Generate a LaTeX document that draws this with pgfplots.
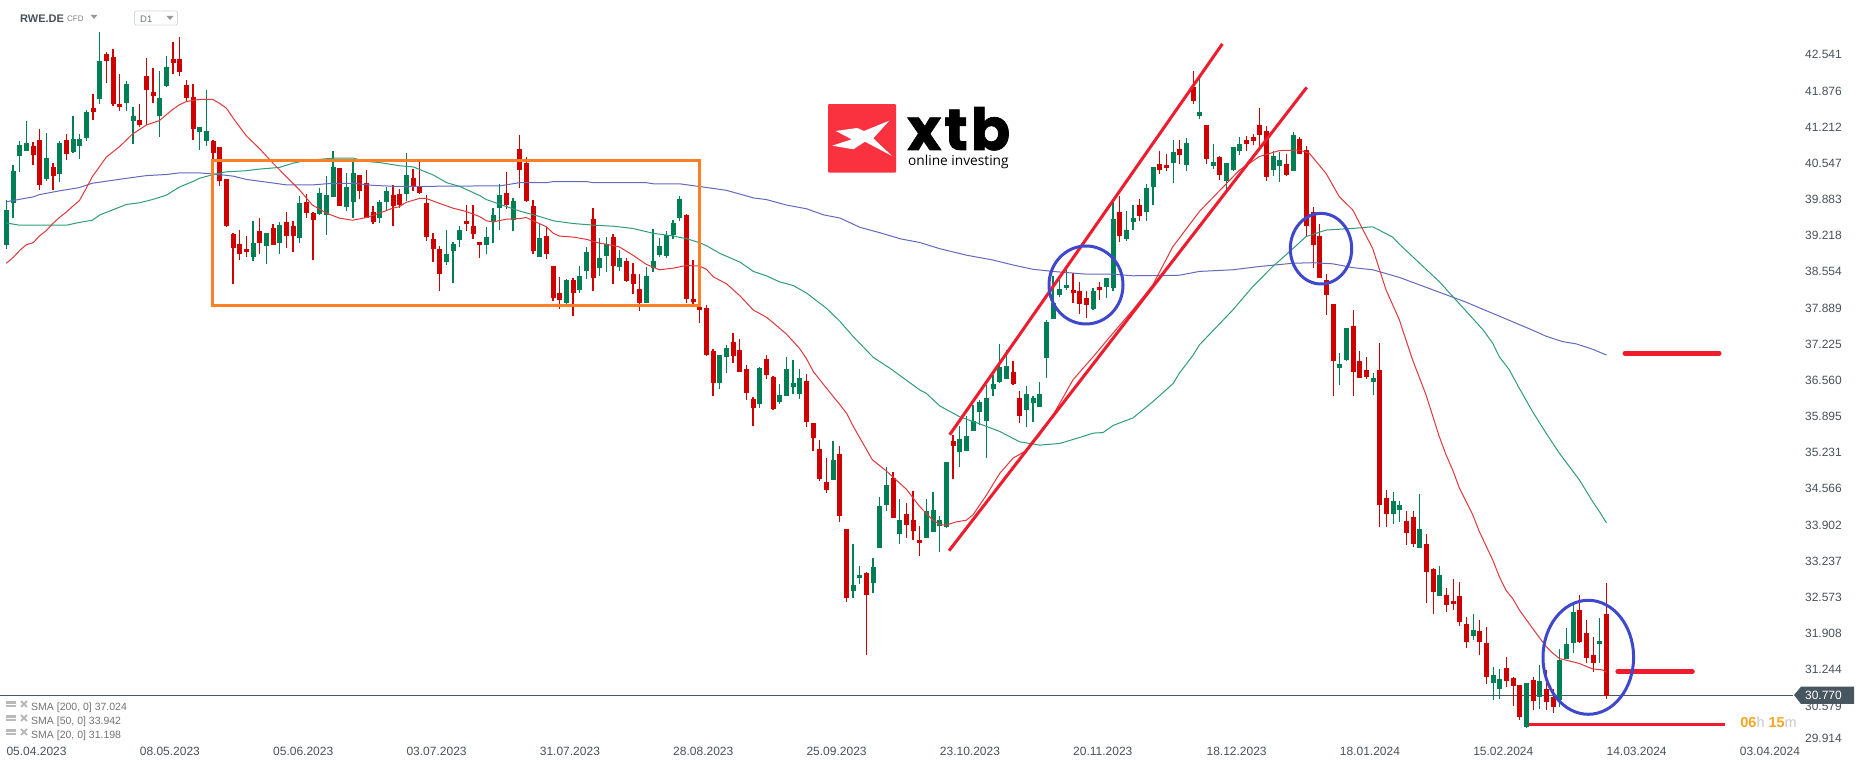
\documentclass[border=0pt]{standalone}
\usepackage{fontspec}
\setmainfont{Liberation Sans}
\newfontfamily\logofont{Poppins}[BoldFont={Poppins Bold},BoldFeatures={FakeBold=1.2}]
\newfontfamily\logosub{Open Sans}
\usepackage{pgfplots}
\usepackage{pgfplotstable}
\pgfplotsset{compat=1.18}
\definecolor{cRed}{HTML}{CF0000}
\definecolor{cGrn}{HTML}{007F55}
\definecolor{maRed}{HTML}{E2383C}
\definecolor{maGrn}{HTML}{2F9C7C}
\definecolor{maBlu}{HTML}{6269BE}
\definecolor{anRed}{HTML}{EE1C2C}
\definecolor{anBlu}{HTML}{3F48CC}
\definecolor{anOra}{HTML}{FF7F27}
\definecolor{priceC}{HTML}{47565F}
\definecolor{txtC}{HTML}{48525A}

% candles: index, low, body bottom, body top, high
\pgfplotstableread{
i l b t h
0 38.98 39.05 39.69 39.88
1 39.55 39.82 40.41 40.52
2 40.39 40.68 40.88 40.96
3 40.78 40.78 40.91 41.32
6 40.23 40.26 40.64 41.10
8 40.20 40.35 40.92 40.96
10 40.74 40.75 40.99 41.42
11 40.63 40.86 40.99 41.08
12 40.96 41.01 41.49 41.53
14 41.64 41.73 42.43 42.96
18 41.51 41.65 42.00 42.06
19 40.90 41.32 41.42 41.58
23 41.03 41.42 41.75 42.24
24 41.95 41.97 42.32 42.52
29 40.79 41.12 41.21 41.21
30 40.86 40.96 41.14 41.89
37 38.75 38.83 39.08 39.49
39 38.70 39.03 39.27 39.27
41 38.88 39.08 39.41 39.47
44 39.08 39.17 39.82 39.95
47 39.60 39.62 40.00 40.09
48 39.23 39.60 39.96 40.31
49 39.93 39.93 40.48 40.77
51 39.67 39.74 40.11 40.37
52 39.54 39.84 40.37 40.59
56 39.45 39.54 39.84 39.87
57 39.69 39.84 40.04 40.11
60 39.85 39.98 40.33 40.74
66 38.68 38.73 38.88 39.32
67 38.35 38.94 39.06 39.10
68 39.01 39.14 39.32 39.39
72 38.88 39.05 39.19 39.38
73 39.08 39.47 39.60 39.73
74 39.32 39.73 39.96 40.17
76 39.30 39.50 39.85 39.91
80 38.83 38.83 39.17 39.43
84 37.96 37.98 38.40 38.42
86 38.16 38.22 38.48 38.66
87 38.42 38.57 38.92 39.01
89 38.48 38.62 38.81 39.17
90 38.55 38.84 39.06 39.19
92 38.57 38.64 38.81 38.95
96 37.98 37.98 38.48 38.64
97 38.55 38.62 38.75 39.34
98 38.83 38.86 39.03 39.17
99 38.81 38.84 39.23 39.30
100 39.16 39.23 39.45 39.50
101 39.49 39.54 39.89 39.95
107 36.40 36.51 37.03 37.03
108 36.69 36.99 37.15 37.21
113 36.05 36.13 36.79 36.81
116 36.13 36.16 36.29 36.49
117 36.27 36.27 36.77 36.99
118 36.31 36.44 36.51 36.93
119 36.22 36.31 36.60 36.77
124 34.73 34.73 35.10 35.45
127 32.56 32.69 32.80 33.55
128 32.82 32.93 32.98 33.15
130 32.65 32.84 33.13 33.30
131 33.48 33.48 34.25 34.42
132 34.16 34.27 34.64 34.97
134 33.55 33.74 33.99 34.38
138 33.66 33.66 34.16 34.38
139 33.77 33.77 34.18 34.51
140 33.41 33.88 33.99 34.07
141 33.85 33.86 35.06 35.06
143 34.97 35.24 35.48 35.72
144 35.26 35.26 35.54 35.90
145 35.63 35.63 35.81 36.11
146 35.74 35.98 36.16 36.20
147 35.13 35.81 36.24 36.47
148 36.27 36.40 36.49 36.66
149 36.51 36.53 36.80 37.23
150 36.58 36.58 36.82 37.12
153 35.70 36.01 36.31 36.46
154 35.79 36.14 36.24 36.27
155 36.07 36.07 36.31 36.53
156 36.60 36.97 37.63 37.67
157 37.69 37.69 37.98 38.48
158 38.09 38.13 38.24 38.40
159 38.22 38.26 38.31 38.59
163 37.85 37.87 38.20 38.26
165 38.07 38.27 38.44 38.44
166 38.20 38.26 39.52 39.84
168 39.12 39.16 39.32 39.67
169 39.32 39.47 39.54 39.78
171 39.49 39.65 40.09 40.17
172 39.78 40.11 40.48 40.48
175 40.18 40.55 40.75 40.97
177 40.41 40.52 40.92 41.01
179 41.36 41.42 41.49 42.10
181 40.44 40.50 40.57 40.90
183 40.06 40.22 40.55 40.55
184 40.41 40.42 40.85 40.85
185 40.70 40.77 40.90 41.03
190 40.31 40.42 40.68 40.77
191 40.20 40.50 40.61 40.75
193 40.41 40.41 41.07 41.12
200 36.47 36.79 36.86 37.06
201 36.91 36.93 37.52 37.52
205 36.29 36.53 36.60 36.69
208 33.92 34.10 34.34 34.51
209 33.96 34.18 34.27 34.34
212 33.48 33.48 33.83 34.47
215 32.60 32.60 32.98 33.15
220 31.79 31.86 31.97 32.27
223 30.69 31.00 31.15 31.29
224 30.71 30.89 31.07 31.26
228 30.17 30.19 31.00 31.00
230 30.52 30.74 31.04 31.33
233 30.56 30.69 31.42 31.63
234 31.44 31.44 31.72 32.01
235 31.55 31.74 32.30 32.49
239 31.37 31.72 31.77 32.19
}\greenC

\pgfplotstableread{
i l b t h
4 40.52 40.70 40.86 40.93
5 40.06 40.15 40.97 41.18
7 40.06 40.31 40.48 40.56
9 40.61 40.72 40.97 41.08
13 41.34 41.49 41.56 41.82
15 42.02 42.43 42.55 42.59
16 41.60 41.64 42.50 42.65
17 41.51 41.58 41.64 42.19
20 41.21 41.25 41.34 41.64
21 41.25 41.89 42.15 42.48
22 41.65 41.78 41.86 42.30
25 42.19 42.39 42.46 42.77
26 42.15 42.22 42.46 42.87
27 41.67 41.75 41.98 42.08
28 40.97 41.18 41.76 42.00
31 40.61 40.74 40.96 40.97
32 40.13 40.22 40.85 40.85
33 39.38 39.39 40.26 40.26
34 38.33 38.99 39.25 39.27
35 38.77 38.88 39.06 39.32
36 38.83 38.92 38.97 39.21
38 38.88 39.08 39.30 39.54
40 39.05 39.05 39.36 39.43
42 38.99 39.21 39.47 39.65
43 38.92 39.21 39.39 39.49
45 39.54 39.63 39.84 39.98
46 38.77 39.50 39.63 39.65
50 39.76 39.76 40.46 40.46
53 39.89 40.04 40.33 40.33
54 39.54 39.54 40.18 40.42
55 39.43 39.47 39.65 39.76
58 39.39 39.76 39.96 40.15
59 39.73 39.78 39.98 40.07
61 40.04 40.13 40.28 40.44
62 39.98 40.00 40.13 40.59
63 39.12 39.19 39.82 39.96
64 38.73 38.97 39.16 39.27
65 38.20 38.51 38.97 39.03
69 39.30 39.43 39.49 39.78
70 39.16 39.25 39.39 39.78
71 38.81 39.05 39.10 39.10
75 39.71 39.78 40.00 40.39
77 40.09 40.42 40.81 41.07
78 39.84 39.85 40.55 40.66
79 38.88 38.94 39.76 39.87
81 38.79 38.88 39.21 39.38
82 38.02 38.07 38.66 38.66
83 37.87 38.04 38.16 38.46
85 37.74 38.16 38.40 38.44
88 38.20 38.44 39.52 39.73
91 38.33 38.66 39.19 39.25
93 38.37 38.38 38.75 38.81
94 38.15 38.33 38.51 38.72
95 37.83 37.98 38.24 38.51
102 37.98 38.05 39.60 39.62
103 37.96 38.00 38.05 38.77
104 37.61 37.85 37.91 37.94
105 37.01 37.03 37.89 37.94
106 36.27 36.51 37.10 37.14
109 36.88 37.01 37.26 37.43
110 36.71 36.71 37.12 37.32
111 36.20 36.33 36.77 36.84
112 35.72 36.05 36.22 36.25
114 36.58 36.66 36.95 37.03
115 36.02 36.03 36.62 36.64
120 35.70 35.79 36.55 36.68
121 35.26 35.50 35.78 35.78
122 34.71 34.75 35.30 35.46
123 34.49 34.55 34.69 35.13
125 33.96 34.07 35.21 35.35
126 32.49 32.56 33.83 33.83
129 31.51 32.62 33.02 33.04
133 34.03 34.03 34.77 34.88
135 33.66 33.90 34.10 34.31
136 33.63 33.79 33.99 34.53
137 33.33 33.57 33.63 33.88
142 34.75 35.35 35.45 35.55
151 36.47 36.49 36.71 36.91
152 35.77 35.90 36.24 36.36
160 37.98 38.16 38.22 38.53
161 37.78 37.96 38.20 38.37
162 37.70 37.94 38.07 38.20
164 38.04 38.22 38.27 38.37
167 39.10 39.21 39.65 39.95
170 39.49 39.58 39.78 39.89
173 40.35 40.42 40.53 40.77
174 40.41 40.46 40.52 40.72
176 40.53 40.70 40.81 40.97
178 41.64 41.69 41.95 42.24
180 40.53 40.63 41.25 41.25
182 40.24 40.33 40.66 40.68
186 40.77 40.90 40.97 41.05
187 40.88 40.96 41.03 41.08
188 40.86 41.07 41.25 41.56
189 40.22 40.29 41.14 41.23
192 40.31 40.33 40.53 40.72
194 40.72 40.72 40.99 41.03
195 39.21 39.39 40.79 40.86
196 38.62 39.05 39.65 39.74
197 38.44 38.44 39.21 39.43
198 37.76 38.13 38.40 38.51
199 36.27 36.91 37.96 37.96
202 36.27 36.71 37.56 37.85
203 36.60 36.60 36.91 37.10
204 36.58 36.62 36.75 36.99
206 33.87 34.27 36.75 37.25
207 33.87 34.10 34.40 34.55
210 33.54 33.76 33.98 34.16
211 33.50 33.55 34.05 34.16
213 32.47 33.04 33.55 33.74
214 32.27 32.67 33.09 33.11
216 32.30 32.43 32.62 32.75
217 32.34 32.45 32.51 32.91
218 32.05 32.12 32.60 32.86
219 31.64 31.75 32.08 32.21
221 31.52 31.75 31.96 32.16
222 30.98 31.11 31.74 32.03
225 30.93 31.04 31.28 31.48
226 30.58 30.95 31.09 31.11
227 30.32 30.38 30.96 30.96
229 30.50 30.67 31.06 31.11
231 30.50 30.65 30.89 31.24
232 30.45 30.56 30.74 30.89
236 31.73 31.75 32.34 32.62
237 31.37 31.46 31.92 32.16
238 31.20 31.37 31.52 31.85
240 30.71 30.77 32.27 32.84
}\redC

\begin{document}
\begin{tikzpicture}[x=1pt,y=1pt]
\fill[white] (0,0) rectangle (1866,767);
\begin{axis}[
  at={(0pt,0pt)},anchor=south west,
  scale only axis,width=1866pt,height=767pt,
  xmin=-0.95,xmax=278.94,ymin=29.457,ymax=43.546,
  axis line style={draw=none},
  major tick length=0pt,
  tick style={draw=none},
  xtick={0,20,40,60,80,100,120,140,160,180,200,220,240,260},
  xticklabels={05.04.2023,08.05.2023,05.06.2023,03.07.2023,31.07.2023,28.08.2023,25.09.2023,23.10.2023,20.11.2023,18.12.2023,18.01.2024,15.02.2024,14.03.2024,03.04.2024},
  x tick label style={anchor=base west,yshift=11.5pt,inner sep=0pt,font=\fontsize{12}{14}\selectfont,text=txtC},
  ytick={42.541,41.876,41.212,40.547,39.883,39.218,38.554,37.889,37.225,36.560,35.895,35.231,34.566,33.902,33.237,32.573,31.908,31.244,30.579,29.99},
  yticklabels={42.541,41.876,41.212,40.547,39.883,39.218,38.554,37.889,37.225,36.560,35.895,35.231,34.566,33.902,33.237,32.573,31.908,31.244,30.579,29.914},
  yticklabel pos=right,
  y tick label style={anchor=east,xshift=-24pt,inner sep=0pt,font=\fontsize{12}{14}\selectfont,text=txtC},
]
% price line
\addplot[priceC,line width=1.1pt,forget plot] coordinates {(-0.95,30.77) (268,30.77)};
% candle wicks
\addplot[draw=none,mark=none,forget plot,error bars/.cd,y dir=plus,y explicit,error mark=none,error bar style={draw=cGrn,line width=1.1pt}]
  table[x=i,y=l,y error plus expr=\thisrow{h}-\thisrow{l}]{\greenC};
\addplot[draw=none,mark=none,forget plot,error bars/.cd,y dir=plus,y explicit,error mark=none,error bar style={draw=cRed,line width=1.1pt}]
  table[x=i,y=l,y error plus expr=\thisrow{h}-\thisrow{l}]{\redC};
% candle bodies
\addplot[draw=none,mark=none,forget plot,error bars/.cd,y dir=plus,y explicit,error mark=none,error bar style={draw=cGrn,line width=5pt}]
  table[x=i,y=b,y error plus expr=\thisrow{t}-\thisrow{b}]{\greenC};
\addplot[draw=none,mark=none,forget plot,error bars/.cd,y dir=plus,y explicit,error mark=none,error bar style={draw=cRed,line width=5pt}]
  table[x=i,y=b,y error plus expr=\thisrow{t}-\thisrow{b}]{\redC};
% SMA 200
\addplot[maBlu,line width=1pt] coordinates {
(0,39.84)(4.05,39.93)(4.95,39.97)(7.95,40.04)(10.95,40.10)(12.9,40.18)(14.05,40.20)(18,40.27)(21,40.32)(24,40.34)(25.95,40.37)(28.95,40.37)(31.05,40.35)(34.05,40.31)(36,40.25)(39.05,40.20)(42,40.15)(46.05,40.15)(48,40.17)(52.05,40.18)(55.05,40.14)(59.05,40.12)(71.05,40.13)
(74,40.13)(76.95,40.19)(81,40.19)(82.05,40.21)(87,40.21)(88.05,40.19)(96,40.19)(97.05,40.17)(100.95,40.17)(103.95,40.12)(108,40.05)(110.05,39.98)(112.05,39.91)(114,39.88)(117,39.78)(120.05,39.71)(122.55,39.60)(125.05,39.54)(128.05,39.37)(131.05,39.27)(134.05,39.16)(137.05,39.09)
(139.95,38.98)(143.95,38.86)(147.95,38.77)(150.95,38.68)(153.95,38.60)(156.95,38.56)(161.95,38.51)(165.95,38.51)(168.95,38.48)(175.95,38.49)(178.95,38.56)(183.95,38.59)(187.95,38.65)(192.95,38.71)(195.95,38.72)(198.95,38.70)(201.95,38.63)(204.95,38.59)(208.95,38.45)
(218.85,38.00)(228.95,37.48)(230.95,37.37)(233.45,37.27)(235.45,37.23)(237.95,37.13)(240,37.024)};
% SMA 50
\addplot[maGrn,line width=1pt] coordinates {
(0,39.45)(1.95,39.41)(9.05,39.41)(10.95,39.46)(12.9,39.50)(14.05,39.60)(15.95,39.69)(18,39.79)(19.95,39.82)(21.9,39.88)(24,39.96)(25.95,40.11)(27.95,40.21)(28.95,40.27)(31.05,40.34)(33,40.39)(36,40.41)(37.95,40.44)(40.95,40.47)(43.05,40.55)(45.05,40.60)(49.05,40.64)(52.05,40.64)(54.05,40.58)(55.95,40.56)(59.05,40.50)(61.05,40.48)(64.05,40.33)(66.05,40.19)(68.05,40.12)(71.05,39.95)
(72,39.88)(75.05,39.75)(76.95,39.67)(79.95,39.57)(82.05,39.49)(85.05,39.44)(88.05,39.41)(91.05,39.39)(93.95,39.35)(97.05,39.26)(100.05,39.21)(102.05,39.16)(103.95,39.09)(105.05,39.03)(107.05,38.89)(110.05,38.73)(112.05,38.56)(114,38.48)(115.95,38.37)(118.05,38.30)(120.05,38.16)(123.05,37.88)(125.05,37.64)(127.05,37.36)(130.05,36.98)(132.55,36.78)(137.05,36.38)
(138,36.32)(140,36.09)(143,35.89)(146,35.76)(149,35.62)(152,35.43)(155,35.37)(158,35.40)(161,35.51)(163,35.59)(164.5,35.60)(166,35.73)(169,35.87)(172,36.17)(175,36.50)(176,36.70)(178,37.02)
(178.95,37.21)(183.95,37.85)(186.95,38.28)(189.95,38.65)(192.45,38.92)(194.95,39.20)(197.95,39.32)(201.95,39.35)(204.95,39.38)(207.95,39.19)(208.95,39.06)
(214.95,38.37)(221.55,37.48)(222.95,37.24)(223.95,36.99)(225.45,36.75)(226.95,36.41)(228.95,35.98)(230.95,35.59)(232.95,35.22)(235.95,34.73)(237.95,34.33)(238.95,34.15)(240,33.942)};
% SMA 20
\addplot[maRed,line width=1pt] coordinates {
(0,38.71)(1.05,38.82)(2.05,38.95)(3,39.05)(4.05,39.09)(4.95,39.21)(6,39.31)(6.9,39.43)(7.95,39.55)(9,39.65)(9.9,39.75)(10.95,39.86)(12,40.09)(12.9,40.30)(13.95,40.48)(15,40.66)(16.95,40.85)(18.9,41.08)(21,41.25)(22.95,41.33)(24.9,41.53)(25.95,41.62)(27,41.68)(28.95,41.72)(30.95,41.72)(31.95,41.65)(33,41.56)(34.05,41.37)(36,41.05)(37.95,40.82)(39.9,40.56)(42,40.30)(43.95,40.06)(45.9,39.78)(48,39.63)(49.95,39.54)(51.9,39.50)(54,39.55)(55.95,39.63)(57.9,39.72)(58.95,39.75)(60,39.83)(61.95,39.90)(63,39.90)(64.95,39.81)(67.05,39.72)(69,39.66)
(70.95,39.57)(72,39.49)(73.05,39.47)(75,39.52)(76.95,39.53)(78,39.55)(79.05,39.49)(81,39.38)(82.05,39.26)(82.95,39.21)(85.05,39.19)(87,39.15)(88.95,39.08)(90,39.06)(91.95,39.01)(93.95,38.86)(96,38.69)(97.95,38.59)(100.05,38.62)(102,38.67)(103.95,38.66)(105,38.60)(106.05,38.46)(108.05,38.33)(110.05,38.11)(112.05,37.85)(114,37.72)(115.95,37.52)(117,37.41)(118.95,37.15)(120,36.96)(121.05,36.72)(123.05,36.41)(125.05,36.11)(126.05,35.95)(127.05,35.71)
(129.9,35.10)(131.95,34.90)(134,34.67)(135,34.56)(137,34.24)(139,33.99)(140.05,33.91)(141,33.90)(142.5,33.96)(144,33.99)(145,34.09)(147,34.45)(149,34.85)(151,35.13)(153,35.27)(155,35.55)(157,35.92)(160,36.57)(163,36.99)
(165.95,37.42)(168.95,37.85)(171.95,38.31)(174.95,39.01)(178.95,39.66)(184.95,40.42)(187.95,40.67)(190.95,40.78)(193.95,40.79)(195.45,40.73)(197.95,40.36)(199.95,39.93)(201.95,39.69)(204.95,38.98)(206.95,38.22)(208.95,37.67)
(209.45,37.48)(210.95,36.93)(212.95,36.29)(214.95,35.52)(215.95,35.19)(216.95,34.91)(217.95,34.58)(219.95,34.09)(220.95,33.78)(222.95,33.26)(223.95,32.95)(224.95,32.70)(225.95,32.55)(226.95,32.34)(228.95,32.00)(230.95,31.67)(231.95,31.55)(232.95,31.45)
(235.9,31.36)(237.9,31.26)(239.4,31.24)(240,31.198)};
% analyst's drawings
\addplot[anOra,line width=3pt] coordinates {(30.88,40.60)(103.9,40.60)(103.9,37.94)(30.88,37.94)} -- cycle;
\addplot[anRed,line width=3pt] coordinates {(141.5,35.56)(182.4,42.74)};
\addplot[anRed,line width=3pt] coordinates {(141.4,33.43)(195.05,41.94)};
\addplot[anRed,line width=5pt,line cap=round] coordinates {(242.8,37.06)(256.9,37.06)};
\addplot[anRed,line width=4.7pt,line cap=round] coordinates {(241.7,31.21)(252.9,31.21)};
\addplot[anRed,line width=3pt] coordinates {(228.4,30.24)(257.8,30.24)};
\end{axis}
% circles
\draw[anBlu,line width=3pt] (1086,482) ellipse [x radius=37,y radius=39];
\draw[anBlu,line width=3pt] (1321,518.3) ellipse [x radius=30.7,y radius=35.3];
\draw[anBlu,line width=3pt] (1588.3,109.7) ellipse [x radius=45.3,y radius=57];
% price tag
\fill[priceC] (1794,72) -- (1801,80.3) -- (1854,80.3) -- (1854,63) -- (1801,63) -- cycle;
\node[anchor=east,inner sep=0pt,text=white,font=\fontsize{12}{14}\selectfont] at (1842,71.5) {30.770};
% countdown
\node[anchor=east,inner sep=0pt,font=\fontsize{14.5}{16}\selectfont] at (1797,45) {\textcolor[HTML]{F5A623}{\bfseries 06}\textcolor[HTML]{C8C8C8}{h} \textcolor[HTML]{F5A623}{\bfseries 15}\textcolor[HTML]{C8C8C8}{m}};
% header
\node[anchor=base west,inner sep=0pt,text=txtC,font=\fontsize{11}{13}\selectfont\bfseries] at (20,744) {RWE.DE};
\node[anchor=base west,inner sep=0pt,text=gray,font=\fontsize{8}{9}\selectfont] at (67,745) {CFD};
\fill[gray!80] (90.7,752) -- (97.3,752) -- (94,748) -- cycle;
\draw[gray!30,line width=0.8pt,rounded corners=1.5pt] (134.5,756) rectangle (177.5,742);
\node[anchor=base west,inner sep=0pt,text=txtC!80,font=\fontsize{9.5}{11}\selectfont] at (140,744.5) {D1};
\fill[gray!80] (166.5,751) -- (173.5,751) -- (170,747) -- cycle;
% SMA legend
\foreach \yy/\lab in {60/{SMA [200,\ 0] 37.024},46/{SMA [50,\ 0] 33.942},32/{SMA [20,\ 0] 31.198}}{
  \fill[gray!55] (6,\yy) rectangle (16,\yy+6);
  \fill[white] (6,\yy+2) rectangle (16,\yy+2.7);
  \draw[gray!55,line width=1.8pt] (21,\yy) -- (27,\yy+6) (21,\yy+6) -- (27,\yy);
  \node[anchor=west,inner sep=0pt,text=gray!90!black,font=\fontsize{10.5}{12}\selectfont] at (31,\yy-1) {\lab};
}
% logo
\fill[fill={rgb,255:red,250;green,50;blue,64},rounded corners=1pt] (828,662.8) rectangle (896,594.3);
\fill[white] (889.3,646.3) -- (873.3,628.7) -- (892,611) -- (865,625.3) -- (853.3,617.7) -- (832.3,621.3) -- (851.7,627.7) -- (835.7,636) -- (857.3,639) -- (864,636) -- cycle;
\node[anchor=base west,inner sep=0pt,font=\logofont\bfseries\fontsize{58}{60}\selectfont] at (907,617) {x\kern3pt t\kern3pt b};
\node[anchor=base west,inner sep=0pt,font=\logosub\fontsize{13.7}{15}\selectfont] at (908,601) {online investing};
\end{tikzpicture}
\end{document}
